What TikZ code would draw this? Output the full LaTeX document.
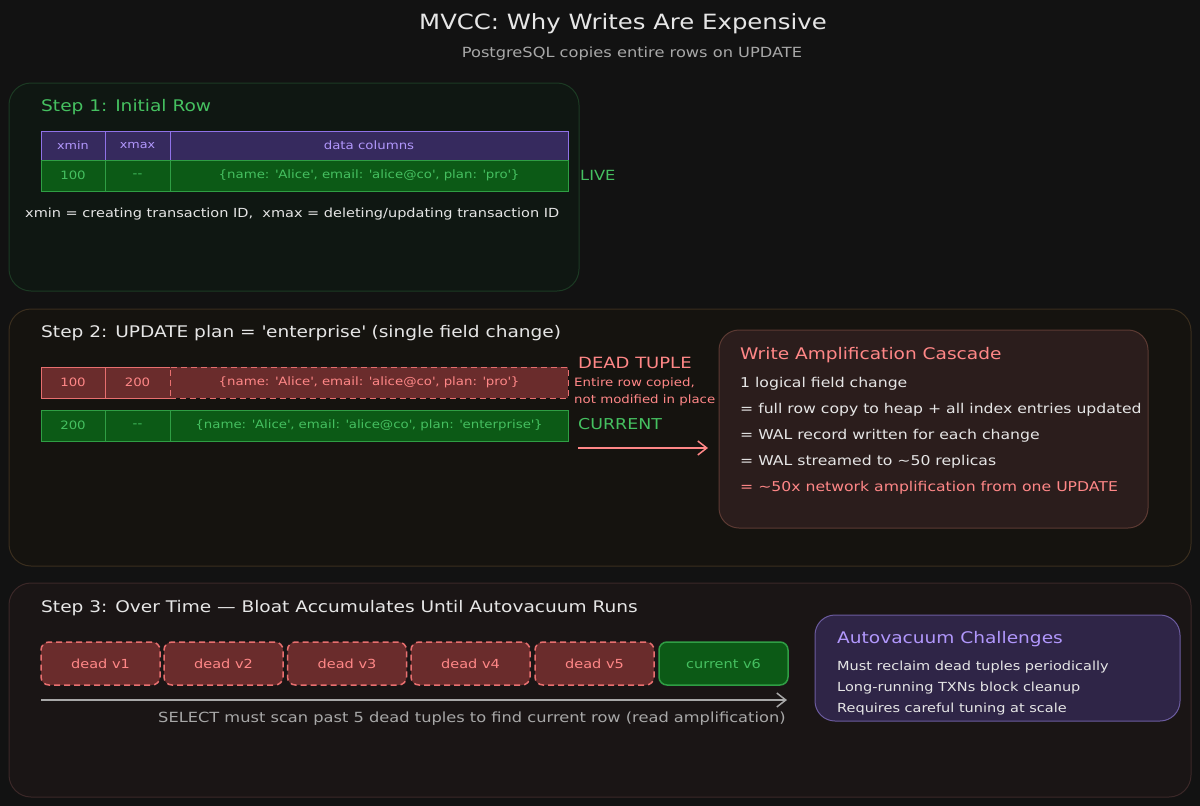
\documentclass[tikz,border=0pt]{standalone}
\usepackage{fontspec}
\setmainfont[FakeStretch=1.16]{DejaVu Sans}
\usetikzlibrary{shapes,arrows.meta}
\definecolor{bgc}{HTML}{121212}
\definecolor{txtw}{HTML}{E6E6E6}
\definecolor{txtg}{HTML}{A8A8A8}
\definecolor{greent}{HTML}{45C060}
\definecolor{greenf}{HTML}{0C5A16}
\definecolor{greenb}{HTML}{2F9E44}
\definecolor{purpt}{HTML}{B197FC}
\definecolor{purpf}{HTML}{362A5E}
\definecolor{purpb}{HTML}{8F72E8}
\definecolor{redt}{HTML}{FF8787}
\definecolor{redf}{HTML}{6A2C2C}
\definecolor{redb}{HTML}{E86F6F}
\definecolor{panone}{HTML}{0F1712}
\definecolor{panoneb}{HTML}{1C3A23}
\definecolor{pantwo}{HTML}{15130F}
\definecolor{pantwob}{HTML}{3A2E1E}
\definecolor{panthree}{HTML}{1A1515}
\definecolor{panthreeb}{HTML}{3B2828}
\definecolor{wampf}{HTML}{2B1D1C}
\definecolor{wampb}{HTML}{5C3A33}
\definecolor{vacf}{HTML}{2F2547}
\definecolor{vacb}{HTML}{6B5B9E}
\newcommand\fsz[1]{\fontsize{#1}{#1}\selectfont}
\newcommand\sq{\textquotesingle}
\newcommand\dd{\mbox{-}\mbox{-}}

\begin{document}
\begin{tikzpicture}[x=1pt, y=-1pt]
\tikzstyle{panel}=[rounded corners=22pt, line width=1pt]
\tikzstyle{cellh}=[rectangle, draw=purpb, fill=purpf, text=purpt, line width=1pt, minimum height=29pt, inner sep=0pt, font=\fsz{11}]
\tikzstyle{cellg}=[rectangle, draw=greenb, fill=greenf, text=greent, line width=1pt, minimum height=31pt, inner sep=0pt, font=\fsz{11.5}]
\tikzstyle{cellr}=[rectangle, draw=redb, fill=redf, text=redt, line width=1pt, minimum height=31pt, inner sep=0pt, font=\fsz{11.5}]
\tikzstyle{deadbox}=[rectangle, rounded corners=8pt, draw=redb, fill=redf, text=redt, dash pattern=on 6pt off 4pt, line width=1.5pt, minimum width=119pt, minimum height=43pt, font=\fsz{12.5}]
\tikzstyle{livebox}=[rectangle, rounded corners=8pt, draw=greenb, fill=greenf, text=greent, line width=1.5pt, minimum width=129pt, minimum height=43pt, font=\fsz{12.5}]
\tikzstyle{txt}=[anchor=west, inner sep=0pt, text=txtw, font=\fsz{13.5}]
\tikzstyle{head}=[anchor=west, inner sep=0pt, font=\fsz{16}]

\fill[bgc] (0,0) rectangle (1200,806);
\useasboundingbox (0,0) rectangle (1200,806);

\node[text=txtw, font=\fsz{21}] (Title) at (623,24) {MVCC: Why Writes Are Expensive};
\node[text=txtg, font=\fsz{14}] (Sub) at (632,54) {PostgreSQL copies entire rows on UPDATE};

\draw[panel, draw=panoneb, fill=panone] (9,83) rectangle (579,291);
\node[head, text=greent] (S1) at (41,107) {Step 1: Initial Row};
\node[cellh, minimum width=64pt] (H0) at (73,145.5) {xmin};
\node[cellh, minimum width=65pt] (H1) at (137.5,145.5) {xmax};
\node[cellh, minimum width=398pt, font=\fsz{11.5}] (H2) at (369,145.5) {data columns};
\node[cellg, minimum width=64pt] (L0) at (73,175.5) {100};
\node[cellg, minimum width=65pt] (L1) at (137.5,175.5) {\dd};
\node[cellg, minimum width=398pt] (L2) at (369,175.5) {\{name: \sq Alice\sq, email: \sq alice@co\sq, plan: \sq pro\sq\}};
\node[txt, text=greent, font=\fsz{14}] (Live) at (580,175) {LIVE};
\node[txt, font=\fsz{12.5}] (Note) at (25,214) {xmin = creating transaction ID,\ \ xmax = deleting/updating transaction ID};

\draw[panel, draw=pantwob, fill=pantwo] (9,309) rectangle (1191,566);
\node[head, text=txtw] (S2) at (41,333) {Step 2: UPDATE plan = \sq enterprise\sq\ (single field change)};
\node[cellr, minimum width=64pt] (D0) at (73,382.5) {100};
\node[cellr, minimum width=65pt] (D1) at (137.5,382.5) {200};
\node[cellr, dash pattern=on 6pt off 4pt, minimum width=398pt] (D2) at (369,382.5) {\{name: \sq Alice\sq, email: \sq alice@co\sq, plan: \sq pro\sq\}};
\node[cellg, minimum width=64pt] (C0) at (73,425.5) {200};
\node[cellg, minimum width=65pt] (C1) at (137.5,425.5) {\dd};
\node[cellg, minimum width=398pt] (C2) at (369,425.5) {\{name: \sq Alice\sq, email: \sq alice@co\sq, plan: \sq enterprise\sq\}};
\node[txt, text=redt, font=\fsz{15.5}] (Dead) at (578,363) {DEAD TUPLE};
\node[txt, text=redt, font=\fsz{11.5}] (Copied) at (574,383) {Entire row copied,};
\node[txt, text=redt, font=\fsz{11.5}] (Place) at (574,400) {not modified in place};
\node[txt, text=greent, font=\fsz{15}] (Cur) at (578,424) {CURRENT};
\coordinate (A0) at (578,448);
\coordinate (A1) at (708,448);
\draw[redt, line width=1.5pt, -{Straight Barb[length=9pt, width=14pt]}] (A0) -- (A1);

\node[rectangle, rounded corners=20pt, draw=wampb, fill=wampf, line width=1pt, minimum width=429pt, minimum height=198pt] (WA) at (933.5,429) {};
\node[head, text=redt] (WAt) at (740,355) {Write Amplification Cascade};
\node[txt] (W1) at (740,384) {1 logical field change};
\node[txt] (W2) at (740,410) {= full row copy to heap + all index entries updated};
\node[txt] (W3) at (740,436) {= WAL record written for each change};
\node[txt] (W4) at (740,462) {= WAL streamed to \textasciitilde50 replicas};
\node[txt, text=redt] (W5) at (740,488) {= \textasciitilde50x network amplification from one UPDATE};

\draw[panel, draw=panthreeb, fill=panthree] (9,583) rectangle (1191,797);
\node[head, text=txtw] (S3) at (41,608) {Step 3: Over Time — Bloat Accumulates Until Autovacuum Runs};
\node[deadbox] (V1) at (100.5,663.5) {dead v1};
\node[deadbox] (V2) at (223.5,663.5) {dead v2};
\node[deadbox] (V3) at (347,663.5) {dead v3};
\node[deadbox] (V4) at (470.5,663.5) {dead v4};
\node[deadbox] (V5) at (594.5,663.5) {dead v5};
\node[livebox] (V6) at (723.5,663.5) {current v6};
\coordinate (B0) at (41,700);
\coordinate (B1) at (787,700);
\draw[txtg, line width=1.5pt, -{Straight Barb[length=9pt, width=14pt]}] (B0) -- (B1);
\node[txt, text=txtg, font=\fsz{14}] (Scan) at (158,719) {SELECT must scan past 5 dead tuples to find current row (read amplification)};

\node[rectangle, rounded corners=20pt, draw=vacb, fill=vacf, line width=1pt, minimum width=365pt, minimum height=106pt] (AV) at (997.5,668) {};
\node[head, text=purpt] (AVt) at (837,639) {Autovacuum Challenges};
\node[txt, font=\fsz{12.5}] (AV1) at (837,667) {Must reclaim dead tuples periodically};
\node[txt, font=\fsz{12.5}] (AV2) at (837,688) {Long-running TXNs block cleanup};
\node[txt, font=\fsz{12.5}] (AV3) at (837,709) {Requires careful tuning at scale};
\end{tikzpicture}
\end{document}
